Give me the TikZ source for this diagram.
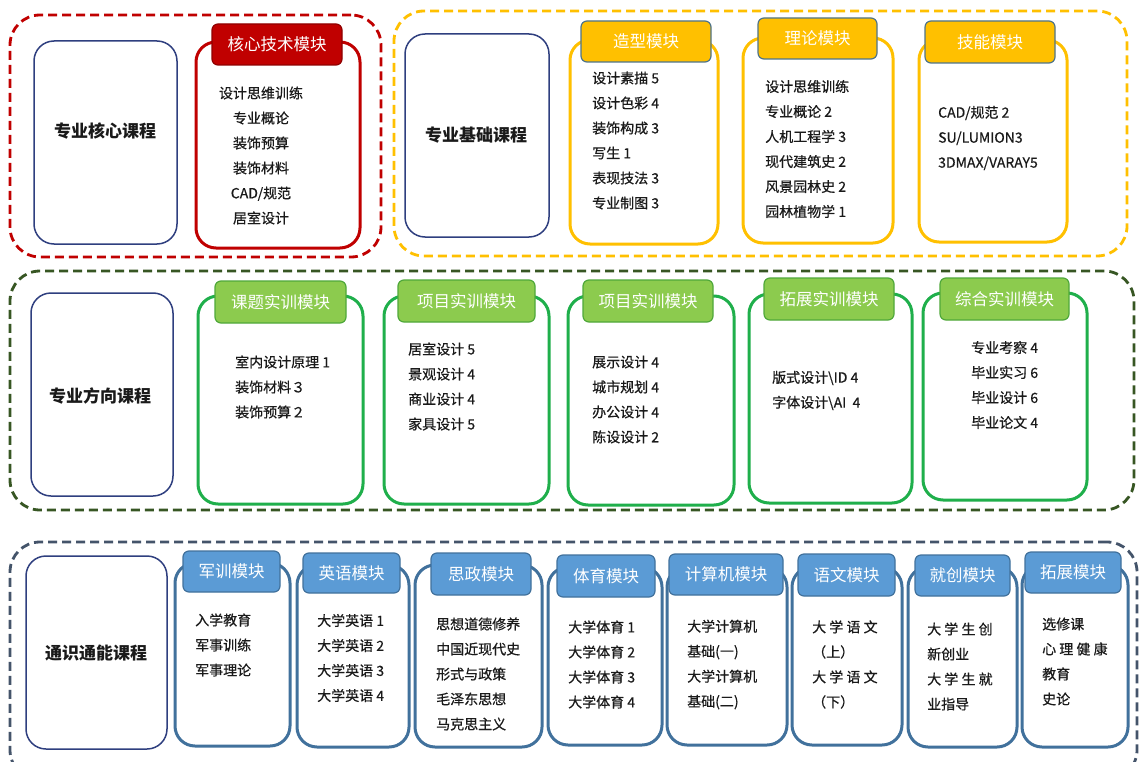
\documentclass[tikz,border=0pt]{standalone}
\usepackage{fontspec}
\setmainfont{Noto Sans CJK SC}
\newfontfamily\itemfont{Noto Sans CJK SC}[FakeBold=0.6]
\usetikzlibrary{fit}
\definecolor{cRed}{HTML}{C00000}
\definecolor{cRedD}{HTML}{900000}
\definecolor{cYel}{HTML}{FFC000}
\definecolor{cYelH}{HTML}{4F7488}
\definecolor{cGrnDash}{HTML}{375623}
\definecolor{cGrn}{HTML}{1FAF4B}
\definecolor{cGrnH}{HTML}{8CCB4E}
\definecolor{cGrnHB}{HTML}{4FA83A}
\definecolor{cSlate}{HTML}{44546A}
\definecolor{cBlu}{HTML}{41719C}
\definecolor{cBluH}{HTML}{5B9BD5}
\definecolor{cNavy}{HTML}{2F3F7F}
\definecolor{cTxt}{HTML}{1A1A1A}
\tikzset{
  outerbox/.style={draw=#1, line width=2.8pt, dash pattern=on 9pt off 5pt, rounded corners=30pt, inner sep=0pt},
  titlebox/.style={draw=cNavy, line width=1.5pt, rounded corners=20pt, fill=white, inner sep=0pt},
  modbox/.style={draw=#1, line width=3pt, rounded corners=20pt, fill=white, inner sep=0pt},
  headbox/.style 2 args={draw=#1, fill=#2, line width=1.2pt, rounded corners=6pt, inner sep=0pt},
  headtext/.style={text=white, inner sep=0pt, font=\fontsize{16.5}{18}\selectfont},
  items/.style={font=\itemfont\fontsize{14}{25}\selectfont, align=left, anchor=west, inner sep=0pt, text=cTxt},
  ctitems/.style={font=\itemfont\fontsize{14}{25}\selectfont, align=center, anchor=center, inner sep=0pt, text=cTxt},
  title/.style={font=\fontsize{17}{20}\selectfont\bfseries, inner sep=0pt, text=cTxt}
}
\begin{document}
\begin{tikzpicture}[x=1pt, y=-1pt]
\useasboundingbox (0,0) rectangle (1139,762);
\fill[white] (0,0) rectangle (1139,762);

% ---------- outer dashed groups ----------
\node[outerbox=cRed, fit={(10,15) (381,257)}] (gA) {};
\node[outerbox=cYel, fit={(394,11) (1127,256)}] (gB) {};
\node[outerbox=cGrnDash, fit={(10,271) (1134,510)}] (gC) {};
\node[outerbox=cSlate, fit={(10,542) (1137,780)}] (gD) {};

% ---------- left title boxes ----------
\node[titlebox, fit={(34,41) (177,244)}] (lA) {};
\node[title] (tA) at (105,131) {专业核心课程};
\node[titlebox, fit={(405,34) (549,237)}] (lB) {};
\node[title] (tB) at (476,135) {专业基础课程};
\node[titlebox, fit={(31,293) (173,496)}] (lC) {};
\node[title] (tC) at (100,396) {专业方向课程};
\node[titlebox, fit={(26,556) (167,749)}] (lD) {};
\node[title] (tD) at (96,653) {通识通能课程};

% ---------- row 1 ----------
\node[modbox=cRed, fit={(196,42) (360,248)}] (a1) {};
\node[headbox={cRedD}{cRed}, fit={(212,24) (342,65)}] (a1h) {};
\node[headtext] (a1t) at (a1h.center) {核心技术模块};
\node[ctitems] (a1i) at (261,155.5) {设计思维训练\\专业概论\\装饰预算\\装饰材料\\CAD/规范\\居室设计};

\node[modbox=cYel, fit={(570,40) (718,244)}] (b1) {};
\node[headbox={cYelH}{cYel}, fit={(581,21) (711,62)}] (b1h) {};
\node[headtext] (b1t) at (b1h.center) {造型模块};
\node[items] (b1i) at (592,140.5) {设计素描 5\\设计色彩 4\\装饰构成 3\\写生 1\\表现技法 3\\专业制图 3};

\node[modbox=cYel, fit={(743,38) (893,243)}] (b2) {};
\node[headbox={cYelH}{cYel}, fit={(758,18) (877,59)}] (b2h) {};
\node[headtext] (b2t) at (b2h.center) {理论模块};
\node[items] (b2i) at (765,149) {设计思维训练\\专业概论 2\\人机工程学 3\\现代建筑史 2\\风景园林史 2\\园林植物学 1};

\node[modbox=cYel, fit={(919,40) (1067,242)}] (b3) {};
\node[headbox={cYelH}{cYel}, fit={(925,21) (1055,63)}] (b3h) {};
\node[headtext] (b3t) at (b3h.center) {技能模块};
\node[items] (b3i) at (938,138) {CAD/规范 2\\SU/LUMION3\\3DMAX/VARAY5};

% ---------- row 2 ----------
\node[modbox=cGrn, fit={(198,296) (363,504)}] (c1) {};
\node[headbox={cGrnHB}{cGrnH}, fit={(215,281) (346,323)}] (c1h) {};
\node[headtext] (c1t) at (c1h.center) {课题实训模块};
\node[items] (c1i) at (235,387) {室内设计原理 1\\装饰材料３\\装饰预算２};

\node[modbox=cGrn, fit={(384,296) (549,504)}] (c2) {};
\node[headbox={cGrnHB}{cGrnH}, fit={(398,280) (535,322)}] (c2h) {};
\node[headtext] (c2t) at (c2h.center) {项目实训模块};
\node[items] (c2i) at (408,386.5) {居室设计 5\\景观设计 4\\商业设计 4\\家具设计 5};

\node[modbox=cGrn, fit={(568,296) (734,505)}] (c3) {};
\node[headbox={cGrnHB}{cGrnH}, fit={(583,280) (713,322)}] (c3h) {};
\node[headtext] (c3t) at (c3h.center) {项目实训模块};
\node[items] (c3i) at (592,399.5) {展示设计 4\\城市规划 4\\办公设计 4\\陈设设计 2};

\node[modbox=cGrn, fit={(749,294) (912,503)}] (c4) {};
\node[headbox={cGrnHB}{cGrnH}, fit={(764,278) (894,320)}] (c4h) {};
\node[headtext] (c4t) at (c4h.center) {拓展实训模块};
\node[items] (c4i) at (772,390.5) {版式设计\textbackslash ID 4\\字体设计\textbackslash AI\ \ 4};

\node[modbox=cGrn, fit={(923,293) (1087,500)}] (c5) {};
\node[headbox={cGrnHB}{cGrnH}, fit={(940,278) (1069,320)}] (c5h) {};
\node[headtext] (c5t) at (c5h.center) {综合实训模块};
\node[items] (c5i) at (971,385) {专业考察 4\\毕业实习 6\\毕业设计 6\\毕业论文 4};

% ---------- row 3 ----------
\node[modbox=cBlu, fit={(175,563) (290,746)}] (d1) {};
\node[headbox={cBlu}{cBluH}, fit={(183,551) (280,592)}] (d1h) {};
\node[headtext] (d1t) at (d1h.center) {军训模块};
\node[items] (d1i) at (195,645) {入学教育\\军事训练\\军事理论};

\node[modbox=cBlu, fit={(297,565) (409,747)}] (d2) {};
\node[headbox={cBlu}{cBluH}, fit={(303,553) (400,593)}] (d2h) {};
\node[headtext] (d2t) at (d2h.center) {英语模块};
\node[items] (d2i) at (317,658) {大学英语 1\\大学英语 2\\大学英语 3\\大学英语 4};

\node[modbox=cBlu, fit={(415,565) (542,747)}] (d3) {};
\node[headbox={cBlu}{cBluH}, fit={(431,553) (531,595)}] (d3h) {};
\node[headtext] (d3t) at (d3h.center) {思政模块};
\node[items] (d3i) at (436,674) {思想道德修养\\中国近现代史\\形式与政策\\毛泽东思想\\马克思主义};

\node[modbox=cBlu, fit={(548,567) (662,745)}] (d4) {};
\node[headbox={cBlu}{cBluH}, fit={(557,555) (655,597)}] (d4h) {};
\node[headtext] (d4t) at (d4h.center) {体育模块};
\node[items] (d4i) at (568,664.5) {大学体育 1\\大学体育 2\\大学体育 3\\大学体育 4};

\node[modbox=cBlu, fit={(667,567) (787,745)}] (d5) {};
\node[headbox={cBlu}{cBluH}, fit={(669,554) (783,595)}] (d5h) {};
\node[headtext] (d5t) at (d5h.center) {计算机模块};
\node[items] (d5i) at (687,664.5) {大学计算机\\基础(一)\\大学计算机\\基础(二)};

\node[modbox=cBlu, fit={(792,567) (902,745)}] (d6) {};
\node[headbox={cBlu}{cBluH}, fit={(798,554) (895,596)}] (d6h) {};
\node[headtext] (d6t) at (d6h.center) {语文模块};
\node[items] (d6i) at (812,664.5) {大 学 语 文\\（上）\\大 学 语 文\\（下）};

\node[modbox=cBlu, fit={(908,567) (1017,747)}] (d7) {};
\node[headbox={cBlu}{cBluH}, fit={(915,555) (1010,596)}] (d7h) {};
\node[headtext] (d7t) at (d7h.center) {就创模块};
\node[items] (d7i) at (927,666.5) {大 学 生 创\\新创业\\大 学 生 就\\业指导};

\node[modbox=cBlu, fit={(1022,565) (1128,747)}] (d8) {};
\node[headbox={cBlu}{cBluH}, fit={(1025,552) (1121,593)}] (d8h) {};
\node[headtext] (d8t) at (d8h.center) {拓展模块};
\node[items] (d8i) at (1042,661.5) {选修课\\心 理 健 康\\教育\\史论};
\end{tikzpicture}
\end{document}
